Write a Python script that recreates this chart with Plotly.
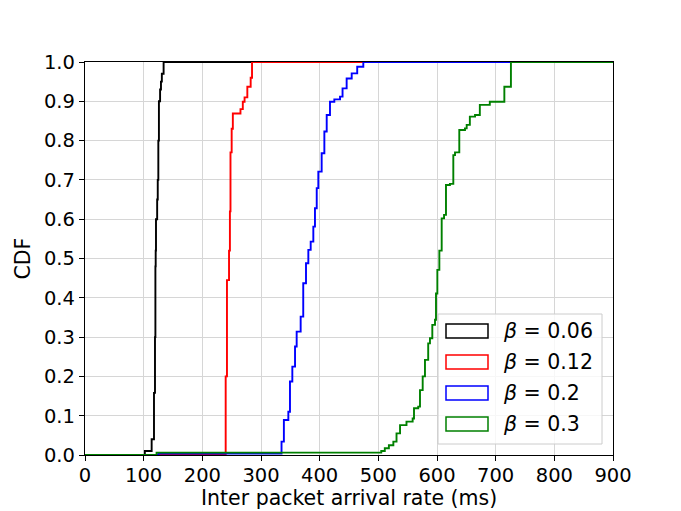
import plotly.graph_objects as go

# CDF step data: x (ms) where the CDF jumps, y = CDF after the jump
labels = ["β = 0.06", "β = 0.12", "β = 0.2", "β = 0.3"]
colors = ["#000000", "#ff0000", "#0000ff", "#008000"]

x_006 = [0, 102, 113.6, 117.6, 119.3, 120, 120.5, 121, 123, 124, 125, 126, 128, 129.5, 131, 134, 900]
y_006 = [0, 0.01, 0.04, 0.158, 0.30, 0.48, 0.52, 0.60, 0.65, 0.70, 0.80, 0.90, 0.93, 0.95, 0.97, 1.0, 1.0]

x_012 = [0, 239.8, 242, 245.5, 247, 248, 250, 252, 265, 269, 272, 276.7, 282.4, 284.7, 900]
y_012 = [0, 0.2, 0.445, 0.52, 0.62, 0.77, 0.83, 0.869, 0.88, 0.899, 0.91, 0.937, 0.96, 1.0, 1.0]

x_02 = [0, 125, 335, 339, 346.6, 349.4, 353.4, 358, 360.8, 367.6, 372, 376.7, 380.7, 384.7, 389.2,
        392, 395, 397.7, 403.4, 408, 412, 417.6, 425, 434.7, 439, 446, 454.6, 464, 474.4, 900]
y_02 = [0, 0.004, 0.034, 0.089, 0.110, 0.187, 0.225, 0.276, 0.314, 0.352, 0.437, 0.488, 0.522, 0.543, 0.581,
        0.628, 0.679, 0.721, 0.768, 0.823, 0.865, 0.899, 0.905, 0.912, 0.933, 0.958, 0.971, 0.988, 1.0, 1.0]

x_03 = [0, 122, 505, 511, 518, 525.6, 531, 537, 548, 558.5, 560.8, 568, 571, 575.6, 579.5, 585, 588, 592,
        596.6, 598.3, 600.6, 604, 608, 612, 615.3, 622, 627.8, 630.7, 638, 647.7, 650.6, 656, 664.8,
        673, 690, 714.8, 726, 900]
y_03 = [0, 0.006, 0.01, 0.017, 0.025, 0.034, 0.055, 0.076, 0.085, 0.093, 0.119, 0.123, 0.165, 0.2, 0.242,
        0.284, 0.297, 0.331, 0.344, 0.411, 0.471, 0.52, 0.602, 0.611, 0.687, 0.69, 0.763, 0.77, 0.827,
        0.831, 0.840, 0.861, 0.865, 0.891, 0.899, 0.937, 1.0, 1.0]

x_ticks = [0, 100, 200, 300, 400, 500, 600, 700, 800, 900]
y_ticks = [0.0, 0.1, 0.2, 0.3, 0.4, 0.5, 0.6, 0.7, 0.8, 0.9, 1.0]

x_title = "Inter packet arrival rate (ms)"
y_title = "CDF"

series = [(x_006, y_006), (x_012, y_012), (x_02, y_02), (x_03, y_03)]

FONT = "DejaVu Sans"
FS_TICK = 19.5
FS_LABEL = 20.5
fig = go.Figure()
for (xs, ys), lab, col in zip(series, labels, colors):
    fig.add_trace(go.Scatter(x=xs, y=ys, mode="lines", name=lab, showlegend=False,
                             line=dict(color=col, width=1.9, shape="hv")))

# page body has an 8px margin, so the figure is offset by 8px; compensate in the margins
fig.update_layout(
    width=681, height=511,
    margin=dict(l=77, r=76, t=54, b=64, autoexpand=False),
    plot_bgcolor="white", paper_bgcolor="white",
    font=dict(family=FONT, size=FS_TICK, color="black"),
)
axis_common = dict(showgrid=True, gridcolor="#d6d6d6", gridwidth=1.3,
                   showline=True, linecolor="black", linewidth=1.3, mirror=True,
                   ticks="outside", ticklen=5, tickwidth=1.3, tickcolor="black",
                   zeroline=False, automargin=False,
                   tickfont=dict(family=FONT, size=FS_TICK, color="black"))
fig.update_xaxes(range=[0, 900], tickvals=x_ticks, ticktext=[str(v) for v in x_ticks],
                 ticklabelstandoff=-3, **axis_common)
fig.update_yaxes(range=[0, 1.0], tickvals=y_ticks, ticktext=[f"{v:.1f}" for v in y_ticks], **axis_common)

# helpers: reference-pixel positions -> paper coordinates of the plot area (85..613, 62..455)
def px_x(p):
    return (p - 85) / 528.0

def px_y(p):
    return (455 - p) / 393.0

annotations = [
    dict(xref="paper", yref="paper", x=0.5, y=px_y(498), xanchor="center", yanchor="middle",
         showarrow=False, text=x_title, font=dict(family=FONT, size=FS_LABEL, color="black")),
    dict(xref="paper", yref="paper", x=px_x(22), y=0.5, xanchor="center", yanchor="middle",
         showarrow=False, text=y_title, textangle=-90, font=dict(family=FONT, size=FS_LABEL, color="black")),
]

# legend drawn as in the original (outlined patches)
shapes = [dict(type="rect", xref="paper", yref="paper",
               x0=px_x(438), x1=px_x(602), y0=px_y(444), y1=px_y(314),
               line=dict(color="#cccccc", width=1), fillcolor="rgba(255,255,255,0.8)", layer="above")]
row_centers = [331, 362, 393, 424]
for lab, col, rc in zip(labels, colors, row_centers):
    shapes.append(dict(type="rect", xref="paper", yref="paper",
                       x0=px_x(446), x1=px_x(488), y0=px_y(rc + 7), y1=px_y(rc - 7),
                       line=dict(color=col, width=1.5), fillcolor="rgba(0,0,0,0)", layer="above"))
    b, rest = lab.split(" ", 1)
    annotations.append(dict(xref="paper", yref="paper", x=px_x(501), y=px_y(rc),
                            xanchor="left", yanchor="middle", showarrow=False,
                            text=f"<i>{b}</i> {rest}", font=dict(family=FONT, size=FS_LABEL, color="black")))
fig.update_layout(shapes=shapes, annotations=annotations)

fig.write_html("out.html")
